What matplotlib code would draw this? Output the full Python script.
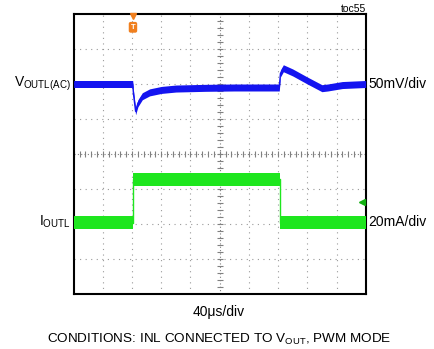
import matplotlib
matplotlib.use("Agg")
import matplotlib.pyplot as plt
import numpy as np

plt.rcParams['font.family'] = ['Liberation Sans', 'DejaVu Sans']
plt.rcParams['mathtext.fontset'] = 'custom'
plt.rcParams['mathtext.rm'] = 'Liberation Sans'

# Waveform breakpoints (x in divisions, y in divisions from centre)
v_x = [0.0, 2.02, 2.05, 2.12, 2.2, 2.35, 2.6, 3.0, 3.5, 4.5, 5.5, 7.04, 7.08, 7.18, 7.5, 8.0, 8.5, 8.7, 9.2, 10.0]
v_y = [2.0, 2.0, 1.7, 1.22, 1.45, 1.65, 1.76, 1.83, 1.87, 1.89, 1.9, 1.9, 2.3, 2.45, 2.33, 2.1, 1.88, 1.9, 1.97, 2.0]

i_x = [0.0, 2.02, 2.02, 7.06, 7.06, 10.0]
i_y = [-1.96, -1.96, -0.72, -0.72, -1.96, -1.96]

blue = '#1414f0'
green = '#1ee61e'

fig = plt.figure(figsize=(4.35, 3.49), dpi=100)
ax = fig.add_axes([0.1694, 0.1576, 0.6713, 0.8023])
ax.set_xlim(0, 10)
ax.set_ylim(-4, 4)

# grid
for gx in range(1, 10):
    if gx != 5:
        ax.axvline(gx, color='#9a9a9a', lw=0.8, ls=(0, (1, 4)), zorder=1)
for gy in range(-3, 4):
    if gy != 0:
        ax.axhline(gy, color='#9a9a9a', lw=0.8, ls=(0, (1, 4)), zorder=1)
ax.axvline(5, color='#808080', lw=0.8, ls=(0, (1, 2)), zorder=1)
ax.axhline(0, color='#808080', lw=0.8, ls=(0, (1, 2)), zorder=1)
# centre-cross minor ticks
mt = np.arange(0, 10.01, 0.2)
ax.plot(mt, np.zeros_like(mt), ls='none', marker='|', ms=5, mew=0.8, color='#808080', zorder=1)
mv = np.arange(-4, 4.01, 0.2)
ax.plot(np.full_like(mv, 5), mv, ls='none', marker='_', ms=5, mew=0.8, color='#808080', zorder=1)

# traces
vx = np.array(v_x); vy = np.array(v_y)
ax.fill_between(vx, vy - 0.1, vy + 0.1, color=blue, lw=0, zorder=3)
ax.plot(vx, vy, color=blue, lw=1.0, zorder=3)

ix = np.array(i_x); iy = np.array(i_y)
ax.fill_between(ix, iy - 0.19, iy + 0.19, color=green, lw=0, zorder=3)
ax.plot(ix, iy, color=green, lw=1.0, zorder=3)

# markers
ax.plot([2.03], [3.93], marker='v', ms=5, color='#f07f1e', clip_on=False, zorder=5)
ax.text(2.03, 3.62, 'T', ha='center', va='center', fontsize=5.5, color='white', fontweight='bold',
        bbox=dict(boxstyle='round,pad=0.25', fc='#f07f1e', ec='none'), zorder=5)
ax.plot([9.88], [-1.37], marker='<', ms=4, color='#10b010', zorder=5)

ax.set_xticks([]); ax.set_yticks([])
for s in ax.spines.values():
    s.set_linewidth(1.5)
    s.set_color('black')

# texts
fig.text(71 / 435, 1 - 84 / 349, r'$\mathregular{V_{OUTL(AC)}}$', ha='right', va='center', fontsize=10)
fig.text(368 / 435, 1 - 84 / 349, '50mV/div', ha='left', va='center', fontsize=10)
fig.text(71 / 435, 1 - 222 / 349, r'$\mathregular{I_{OUTL}}$', ha='right', va='center', fontsize=10)
fig.text(368 / 435, 1 - 222 / 349, '20mA/div', ha='left', va='center', fontsize=10)
fig.text(366 / 435, 1 - 9 / 349, 'toc55', ha='right', va='center', fontsize=7.5)
fig.text(219 / 435, 1 - 312 / 349, '40μs/div', ha='center', va='center', fontsize=10)
fig.text(219 / 435, 1 - 339 / 349, r'CONDITIONS: INL CONNECTED TO $\mathregular{V_{OUT}}$, PWM MODE',
         ha='center', va='center', fontsize=9.7)

fig.savefig('out.png', dpi=100)
